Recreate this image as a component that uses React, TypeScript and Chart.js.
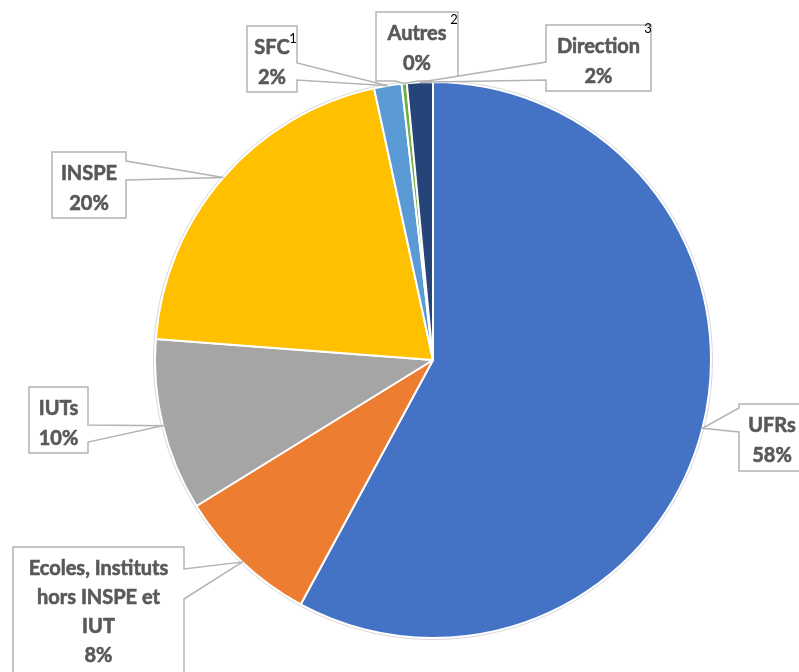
import React, { useEffect, useRef } from "react";
import { Chart, registerables } from "chart.js";

Chart.register(...registerables);

// ---- data ----
const labelLines: string[][] = [
  ["UFRs"],
  ["Ecoles, Instituts", "hors INSPE et", "IUT"],
  ["IUTs"],
  ["INSPE"],
  ["SFC"],
  ["Autres"],
  ["Direction"],
];
const categories = labelLines.map((l) => l.join(" "));
const values = [57.9, 8.3, 10.0, 20.4, 1.6, 0.3, 1.5];
const footnotes = ["", "", "", "", "1", "2", "3"];
const colors = ["#4472C4", "#ED7D31", "#A5A5A5", "#FFC000", "#5B9BD5", "#70AD47", "#264478"];

// ---- callout layout (box, wedge side, wedge base span, footnote position) ----
type Callout = { x: number; y: number; w: number; h: number; side: "left" | "right" | "bottom"; b0: number; b1: number; fx?: number; fy?: number };
const callouts: Callout[] = [
  { x: 739, y: 404, w: 66, h: 67, side: "left", b0: 408, b1: 432 },
  { x: 13, y: 547, w: 171, h: 129, side: "right", b0: 569, b1: 599 },
  { x: 29, y: 387, w: 59, h: 66, side: "right", b0: 425, b1: 442 },
  { x: 52, y: 152, w: 74, h: 66, side: "right", b0: 161, b1: 180 },
  { x: 247, y: 26, w: 50, h: 66, side: "right", b0: 63, b1: 80, fx: 293, fy: 39 },
  { x: 376, y: 12, w: 82, h: 69, side: "bottom", b0: 395, b1: 418, fx: 454, fy: 20 },
  { x: 546, y: 25, w: 105, h: 66, side: "left", b0: 62, b1: 80, fx: 648, fy: 29 },
];

const TEXT_FONT = "bold 20px Lato";
const TEXT_COLOR = "#595959";
const BORDER_COLOR = "#b4b4b4";

const calloutPlugin = {
  id: "callouts",
  afterDatasetsDraw(chart: any) {
    const ctx: CanvasRenderingContext2D = chart.ctx;
    const meta = chart.getDatasetMeta(0);
    const total = values.reduce((a, b) => a + b, 0);
    ctx.save();
    // faint outer ring
    const a0 = meta.data[0];
    if (a0) {
      const p = a0.getProps(["x", "y", "outerRadius"], true);
      ctx.beginPath();
      ctx.arc(p.x, p.y, p.outerRadius + 1.5, 0, Math.PI * 2);
      ctx.strokeStyle = "#d9d9d9";
      ctx.lineWidth = 1;
      ctx.stroke();
    }
    meta.data.forEach((arc: any, i: number) => {
      const c = callouts[i];
      if (!c) return;
      const p = arc.getProps(["x", "y", "startAngle", "endAngle", "outerRadius"], true);
      const mid = (p.startAngle + p.endAngle) / 2;
      const tx = p.x + Math.cos(mid) * p.outerRadius;
      const ty = p.y + Math.sin(mid) * p.outerRadius;
      const { x, y, w, h } = c;
      ctx.beginPath();
      if (c.side === "right") {
        ctx.moveTo(x, y);
        ctx.lineTo(x + w, y);
        ctx.lineTo(x + w, c.b0);
        ctx.lineTo(tx, ty);
        ctx.lineTo(x + w, c.b1);
        ctx.lineTo(x + w, y + h);
        ctx.lineTo(x, y + h);
      } else if (c.side === "left") {
        ctx.moveTo(x, y);
        ctx.lineTo(x + w, y);
        ctx.lineTo(x + w, y + h);
        ctx.lineTo(x, y + h);
        ctx.lineTo(x, c.b1);
        ctx.lineTo(tx, ty);
        ctx.lineTo(x, c.b0);
      } else {
        ctx.moveTo(x, y);
        ctx.lineTo(x + w, y);
        ctx.lineTo(x + w, y + h);
        ctx.lineTo(c.b1, y + h);
        ctx.lineTo(tx, ty);
        ctx.lineTo(c.b0, y + h);
        ctx.lineTo(x, y + h);
      }
      ctx.closePath();
      ctx.fillStyle = "#ffffff";
      ctx.fill();
      ctx.strokeStyle = BORDER_COLOR;
      ctx.lineWidth = 1.5;
      ctx.lineJoin = "miter";
      ctx.stroke();

      const lines = [...labelLines[i], Math.round((values[i] / total) * 100) + "%"];
      ctx.font = TEXT_FONT;
      ctx.fillStyle = TEXT_COLOR;
      ctx.strokeStyle = TEXT_COLOR;
      ctx.lineWidth = 0.6;
      ctx.lineJoin = "round";
      ctx.textAlign = "center";
      ctx.textBaseline = "alphabetic";
      const cx = x + w / 2;
      const step = lines.length > 2 ? 29.3 : 30;
      lines.forEach((t, k) => {
        ctx.fillText(t, cx, y + 27.5 + k * step);
        ctx.strokeText(t, cx, y + 27.5 + k * step);
      });
      if (footnotes[i] && c.fx !== undefined) {
        ctx.font = "13px Lato";
        ctx.fillStyle = "#000000";
        ctx.textBaseline = "middle";
        ctx.fillText(footnotes[i], c.fx, c.fy as number);
      }
    });
    ctx.restore();
  },
};

export default function App() {
  const ref = useRef<HTMLCanvasElement | null>(null);
  useEffect(() => {
    if (!ref.current) return;
    const chart = new Chart(ref.current, {
      type: "pie",
      data: {
        labels: categories,
        datasets: [
          {
            data: values,
            backgroundColor: colors,
            borderColor: "#ffffff",
            borderWidth: 2,
          },
        ],
      },
      options: {
        responsive: false,
        animation: false,
        layout: { padding: { left: 154, right: 87, top: 81, bottom: 33 } },
        plugins: {
          legend: { display: false },
          tooltip: { enabled: false },
        },
      },
      plugins: [calloutPlugin],
    });
    return () => chart.destroy();
  }, []);
  return (
    <div style={{ position: "absolute", left: 0, top: 0, width: 799, height: 672, background: "#fff" }}>
      <canvas ref={ref} width={799} height={672} style={{ display: "block" }} />
    </div>
  );
}
